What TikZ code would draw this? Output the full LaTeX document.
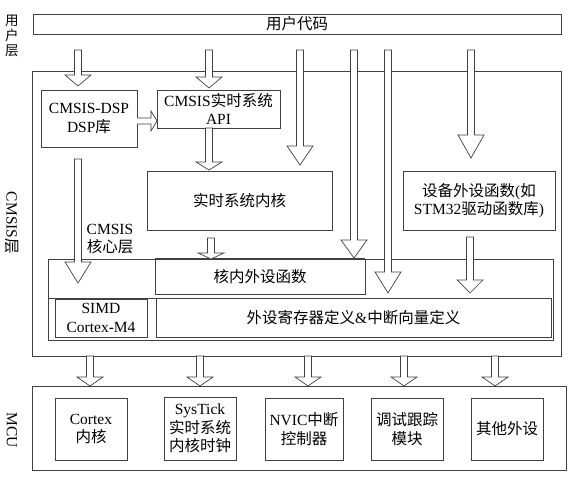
\documentclass[tikz,border=0pt]{standalone}
\usepackage{fontspec}
\setmainfont{Liberation Serif}
\newfontfamily\cjk{Noto Sans CJK SC}
\usetikzlibrary{calc}
\definecolor{linec}{gray}{0.25}
\newcommand{\zh}[1]{{\cjk #1}}
\newcommand{\boxfont}{\fontsize{15.5}{18.5}\selectfont}
% hollow block arrow pointing down: [head length]{from}{tip}
\newcommand{\hollowdn}[3][16]{%
	\draw[hollow] let \p1=(#2), \p2=(#3) in
	(\x1-3.5pt,\y1) -- (\x1-3.5pt,\y2+#1*1pt) -- (\x1-13pt,\y2+#1*1pt) -- (\x2,\y2)
	-- (\x1+13pt,\y2+#1*1pt) -- (\x1+3.5pt,\y2+#1*1pt) -- (\x1+3.5pt,\y1) -- cycle;}

\begin{document}
\begin{tikzpicture}[x=1pt, y=-1pt,
	box/.style={draw=linec, line width=0.8pt, align=center, font=\boxfont, inner sep=2pt, outer sep=0pt},
	hollow/.style={draw=linec, fill=white, line width=0.7pt, line join=miter}]
			\useasboundingbox (0,0) rectangle (571,478);
			
			% user layer
			\node[font=\fontsize{13.5}{15}\selectfont\cjk, align=center] (userlbl) at (12,36) {用\\户\\层};
			\node[box, inner sep=1pt, minimum width=528, minimum height=20] (user) at (297,24) {\zh{用户代码}};
			
			% CMSIS layer
			\node[box, minimum width=529, minimum height=285] (cmsis) at (296.5,213.5) {};
			\node[font=\boxfont, rotate=-90] (cmsislbl) at (12,223) {CMSIS\zh{层}};
			\node[box, minimum width=96, minimum height=57] (dsp) at (89,118.5) {CMSIS-DSP\\DSP\zh{库}};
			\node[box, minimum width=123, minimum height=38] (api) at (218.5,109) {CMSIS\zh{实时系统}\\API};
			\node[box, minimum width=185, minimum height=59] (kernel) at (239.5,200.5) {\zh{实时系统内核}};
			\node[box, minimum width=152, minimum height=59] (dev) at (479,200.5) {\zh{设备外设函数}(\zh{如}\\STM32\zh{驱动函数库})};
			\node[font=\boxfont, align=center] (corelbl) at (110,239) {CMSIS\\\zh{核心层}};
			
			% core layer
			\node[box, minimum width=505, minimum height=81] (core) at (300.5,299.5) {};
			\node[box, minimum width=210, minimum height=35] (pfunc) at (260,276.5) {\zh{核内外设函数}};
			\node[box, minimum width=92, minimum height=38] (simd) at (101,318) {SIMD\\Cortex-M4};
			\node[box, minimum width=395, minimum height=39] (reg) at (353.5,317.5) {\zh{外设寄存器定义}\&\zh{中断向量定义}};
			\draw[linec, line width=0.8pt] (core.west |- reg.north) -- (reg.north west);
			\draw[linec, line width=1.8pt] (pfunc.north west) -- (pfunc.north east);
			
			% MCU
			\node[box, minimum width=534, minimum height=84] (mcu) at (299,428) {};
			\node[font=\boxfont, rotate=-90] (mculbl) at (12,430) {MCU};
			\node[box, minimum width=72, minimum height=62] (cortex) at (91,429) {Cortex\\\zh{内核}};
			\node[box, minimum width=72, minimum height=63] (systick) at (200,428.5) {SysTick\\\zh{实时系统}\\\zh{内核时钟}};
			\node[box, minimum width=78, minimum height=62] (nvic) at (304,429) {NVIC\zh{中断}\\\zh{控制器}};
			\node[box, minimum width=72, minimum height=62] (debug) at (407,429) {\zh{调试跟踪}\\\zh{模块}};
			\node[box, minimum width=72, minimum height=62] (other) at (507,429) {\zh{其他外设}};
			
			% arrows from user code
			\foreach \ax/\at/\ah in {78/86/11, 209/88/11, 300/165/19, 354/258/18, 388/293/21, 471/158/23}
				\hollowdn[\ah]{\ax,50}{\ax,\at};
			
			% arrows inside CMSIS
			\hollowdn[8]{api.south -| 209,0}{209,170}
			\hollowdn[6]{211,238}{pfunc.north -| 211,0}
			\hollowdn[21]{78,159}{78,283}
			\hollowdn[13]{470,237}{470,293}
			\draw[hollow] let \p1=(dsp.east |- 0,121), \p2=(api.west |- 0,121) in
				(\x1,\y1+3pt) -- (\x2-6pt,\y1+3pt) -- (\x2-6pt,\y1+10pt) -- (\x2,\y1)
				-- (\x2-6pt,\y1-10pt) -- (\x2-6pt,\y1-3pt) -- (\x1,\y1-3pt);
			
			% CMSIS -> MCU
			\foreach \ax in {90,200,308,404,495}
				\hollowdn[9]{cmsis.south -| \ax,0}{mcu.north -| \ax,0};
		\end{tikzpicture}
\end{document}
